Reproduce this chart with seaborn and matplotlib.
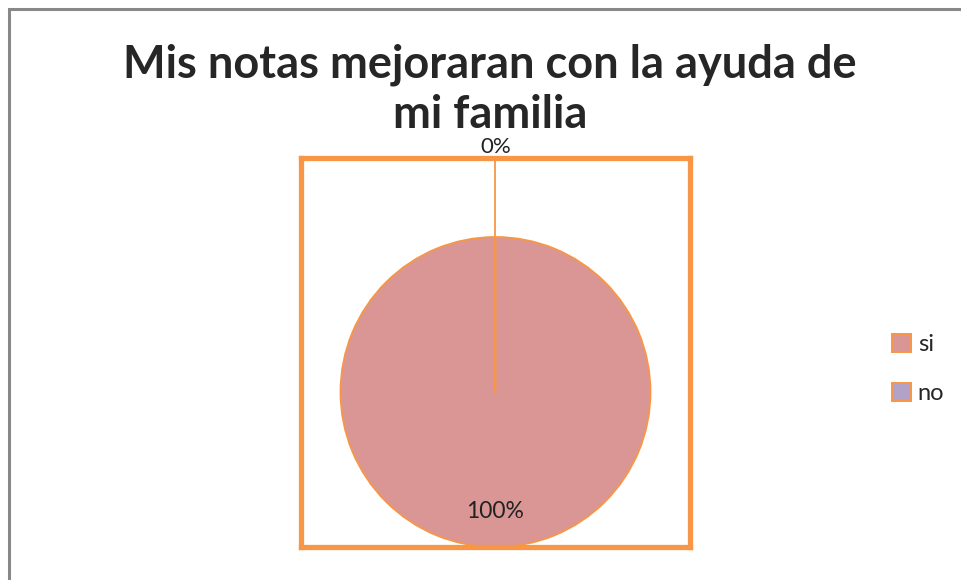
import matplotlib
matplotlib.use("Agg")
import matplotlib.pyplot as plt
from matplotlib.patches import Patch, Rectangle
import seaborn as sns

# data
categories = ["si", "no"]
values = [100, 0]
pct_labels = ["100%", "0%"]
slice_colors = ["#D99694", "#B3A2C7"]
title = "Mis notas mejoraran con la ayuda de\nmi familia"

orange = "#F79646"
W, H = 962, 580

sns.set_style("white")
plt.rcParams["font.family"] = ["Lato", "DejaVu Sans"]

fig = plt.figure(figsize=(W / 100, H / 100), dpi=100)

# outer chart border (only top/left visible in the reference)
fig.patches.append(Rectangle((9 / W, -0.1), 1.2, (H - 9) / H + 0.1,
                             transform=fig.transFigure, fill=False,
                             edgecolor="#888888", linewidth=2.2))

# plot area box, pixel coords
x0, x1, y_top, y_bot = 301, 690, 158, 547
ax = fig.add_axes([x0 / W, (H - y_bot) / H, (x1 - x0) / W, (y_bot - y_top) / H])
r_px = 155
half_w = (x1 - x0) / 2 / r_px

wedges, _ = ax.pie(values, colors=slice_colors, startangle=90, counterclock=False,
                   radius=1, center=(0, 0),
                   wedgeprops=dict(edgecolor=orange, linewidth=1.3))
# avoid matplotlib's full-circle connector line to 0 deg
w0 = wedges[0]
w0.set_theta1(w0.theta1 + 1e-7)

ax.set_aspect("equal")
ax.set_xlim(-half_w, half_w)
ax.set_ylim(-(y_bot - 392) / r_px, (392 - y_top) / r_px)
ax.set_xticks([])
ax.set_yticks([])
ax.set_frame_on(True)
for s in ax.spines.values():
    s.set_visible(True)
    s.set_color(orange)
    s.set_linewidth(3.8)

# slice boundary + leader line for the 0% slice, up to the box top
ytop = ax.get_ylim()[1]
ax.plot([0, 0], [0, ytop], color=orange, linewidth=1.3, clip_on=False, zorder=3)

# data labels
ax.text(0, -0.77, pct_labels[0], ha="center", va="center", fontsize=16.5, color="#222222")
ax.text(0, ytop + 0.07, pct_labels[1], ha="center", va="center", fontsize=16,
        color="#222222", clip_on=False)

fig.text(490 / W, 1 - 90 / H, title, ha="center", va="center", fontsize=32.5,
         fontweight="bold", linespacing=1.25)

handles = [Patch(facecolor=c, edgecolor=orange, linewidth=1.4) for c in slice_colors]
fig.legend(handles, categories, loc="center left", bbox_to_anchor=(880 / W, 1 - 369 / H),
           frameon=False, fontsize=17, handlelength=0.8, handleheight=0.8,
           handletextpad=0.3, labelspacing=1.15, borderpad=0)

fig.savefig("out.png", dpi=100)
